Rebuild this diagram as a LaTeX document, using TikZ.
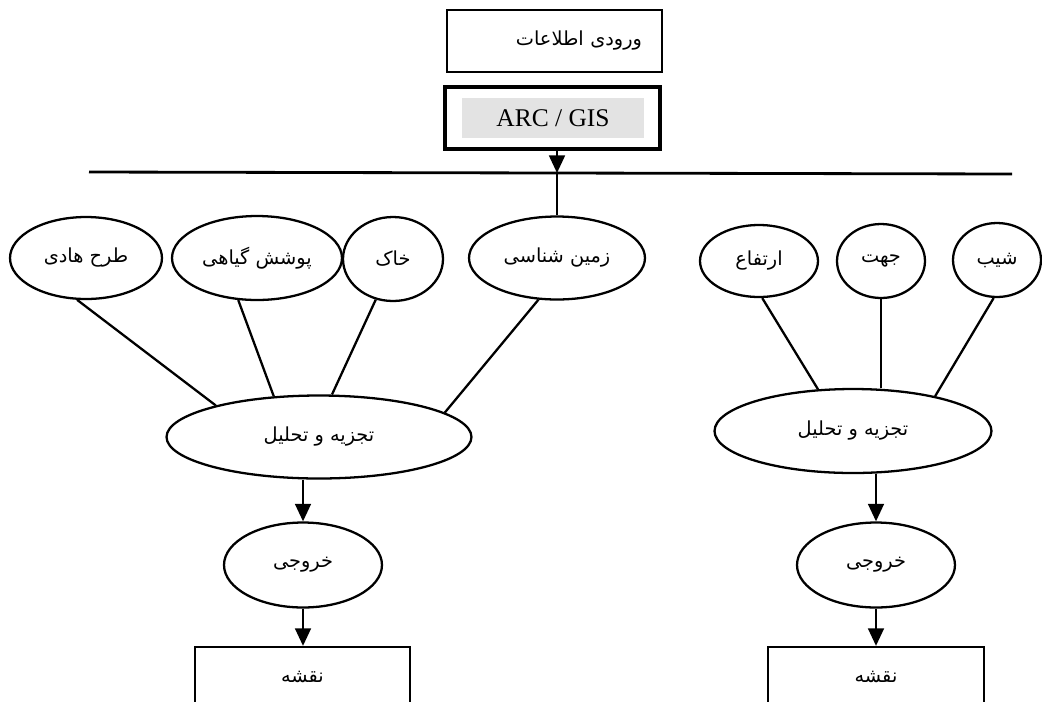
\documentclass[tikz,border=0pt]{standalone}
\usepackage{fontspec}
\setmainfont{Liberation Serif}
\newfontfamily\farsi[Script=Arabic]{DejaVu Sans}
\TeXXeTstate=1
\newcommand{\fatxt}[1]{{\farsi\beginR #1\endR}}
\usetikzlibrary{shapes.geometric,arrows.meta,positioning}

\begin{document}
\begin{tikzpicture}[x=0.02cm, y=-0.02cm,
  box/.style={rectangle, draw, line width=1.3pt, inner sep=0pt,
              font=\fontsize{11}{13}\selectfont},
  shade/.style={rectangle, fill=gray!22, inner sep=0pt,
                minimum width=3.64cm, minimum height=0.8cm,
                font=\fontsize{14.5}{16}\selectfont},
  ell/.style={ellipse, draw, line width=1.3pt, inner sep=0pt,
              font=\fontsize{11}{13}\selectfont},
  arr/.style={draw, line width=1.3pt, -{Triangle[length=10pt,width=9pt]}},
  ln/.style={draw, line width=1.3pt},
]
  \useasboundingbox (0,0) rectangle (1042,701);
  \clip (0,0) rectangle (1042,701);

  % ===== Input =====
  \node[box, minimum width=4.3cm, minimum height=1.24cm, inner xsep=0.4cm,
        text width=3.5cm, align=right] (input) at (554.5,41) {\fatxt{ورودی اطلاعات}};
  \node[shade] (arcgis) at (553,118) {ARC / GIS};
  \node[box, line width=1.8pt, minimum width=4.3cm, minimum height=1.24cm] (arcbox) at (552.5,118) {};

  % ===== Distribution line =====
  \coordinate (hl) at (89,172);
  \coordinate (hm) at (557,173);
  \coordinate (hr) at (1012,174);
  \draw[ln, line width=1.6pt] (hl) -- (hm) -- (hr);
  \draw[arr] (arcbox.south -| hm) -- (hm);

  % ===== Layers, left group =====
  \node[ell, minimum width=3.04cm, minimum height=1.64cm] (tarh) at (86,258) {\fatxt{طرح هادی}};
  \node[ell, minimum width=3.4cm, minimum height=1.68cm] (poshesh) at (257,258) {\fatxt{پوشش گیاهی}};
  \node[ell, minimum width=2.0cm, minimum height=1.68cm] (khak) at (393,259) {\fatxt{خاک}};
  \node[ell, minimum width=3.52cm, minimum height=1.66cm] (zamin) at (557,258) {\fatxt{زمین شناسی}};
  \draw[ln] (hm) -- (zamin.north);

  % ===== Layers, right group =====
  \node[ell, minimum width=2.36cm, minimum height=1.44cm] (ertefa) at (759,261) {\fatxt{ارتفاع}};
  \node[ell, minimum width=1.76cm, minimum height=1.48cm] (jahat) at (881,261) {\fatxt{جهت}};
  \node[ell, minimum width=1.76cm, minimum height=1.48cm] (shib) at (997,260) {\fatxt{شیب}};

  % ===== Analysis =====
  \node[ell, minimum width=6.1cm, minimum height=1.66cm] (tahlilL) at (319,437) {\fatxt{تجزیه و تحلیل}};
  \node[ell, minimum width=5.54cm, minimum height=1.68cm] (tahlilR) at (853,431) {\fatxt{تجزیه و تحلیل}};

  \draw[ln] (tarh.258) -- (tahlilL.163);
  \draw[ln] (poshesh.246) -- (tahlilL.138);
  \draw[ln] (khak.247) -- (tahlilL.73);
  \draw[ln] (zamin.246) -- (tahlilL.11);

  \draw[ln] (ertefa.275) -- (tahlilR.130);
  \draw[ln] (jahat.south) -- (jahat.south |- tahlilR.north);
  \draw[ln] (shib.265) -- (tahlilR.23);

  % ===== Output =====
  \node[ell, minimum width=3.16cm, minimum height=1.7cm] (khorojiL) at (303,565) {\fatxt{خروجی}};
  \node[ell, minimum width=3.16cm, minimum height=1.7cm] (khorojiR) at (876,565) {\fatxt{خروجی}};
  \draw[arr] (tahlilL.south -| khorojiL.north) -- (khorojiL.north);
  \draw[arr] (tahlilR.south -| khorojiR.north) -- (khorojiR.north);

  \node[box, minimum width=4.3cm, minimum height=1.2cm] (naqsheL) at (302.5,677) {\fatxt{نقشه}};
  \node[box, minimum width=4.32cm, minimum height=1.2cm] (naqsheR) at (876,677) {\fatxt{نقشه}};
  \draw[arr] (khorojiL.south) -- (khorojiL.south |- naqsheL.north);
  \draw[arr] (khorojiR.south) -- (khorojiR.south |- naqsheR.north);

\end{tikzpicture}
\end{document}
